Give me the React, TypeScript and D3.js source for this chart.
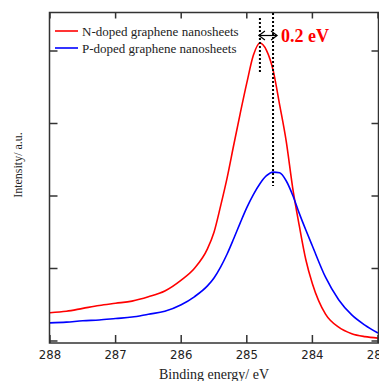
import React from 'react';
import * as d3 from 'd3';

// binding energy grid (eV)
const energy = [
  288.0, 287.75, 287.5, 287.25, 287.0, 286.75, 286.5, 286.25, 286.0, 285.8, 285.6,
  285.5, 285.4, 285.3, 285.2, 285.1, 285.0, 284.9, 284.8, 284.7, 284.6, 284.5,
  284.4, 284.3, 284.2, 284.1, 284.0, 283.8, 283.6, 283.4, 283.2, 283.0,
];
const nDoped = [
  0.39, 0.41, 0.45, 0.49, 0.52, 0.55, 0.61, 0.69, 0.84, 1.0, 1.27,
  1.5, 1.86, 2.25, 2.7, 3.14, 3.56, 3.94, 4.11, 4.01, 3.74, 3.26,
  2.76, 2.11, 1.59, 1.12, 0.79, 0.37, 0.19, 0.1, 0.06, 0.04,
];
const pDoped = [
  0.25, 0.26, 0.28, 0.29, 0.31, 0.33, 0.37, 0.41, 0.5, 0.61, 0.76,
  0.87, 1.02, 1.2, 1.41, 1.63, 1.84, 2.02, 2.17, 2.28, 2.33, 2.32,
  2.21, 2.01, 1.76, 1.53, 1.31, 0.88, 0.57, 0.36, 0.22, 0.11,
];
const xTicks = [288, 287, 286, 285, 284, 283];
const yTicks = [0, 1, 2, 3, 4];
const seriesNames = ['N-doped graphene nanosheets', 'P-doped graphene nanosheets'];
const peakN = 284.8;
const peakP = 284.6;

export default function App() {
  const W = 379;
  const H = 381;
  const left = 49.5, right = 378.5, top = 12.5, bottom = 343;

  const x = d3.scaleLinear().domain([288, 283]).range([50, 378]);
  const y = d3.scaleLinear().domain([0, 4]).range([341, 51]);

  const line = d3
    .line<number>()
    .x((_, i) => x(energy[i]))
    .y((d) => y(d))
    .curve(d3.curveMonotoneX);

  const serif = '"Liberation Serif", "Times New Roman", serif';
  const frame = '#333';

  return (
    <svg width={W} height={H} style={{ position: 'absolute', left: 0, top: 0, background: '#fff' }}>
      <defs>
        <clipPath id="plot">
          <rect x={left} y={top} width={right - left + 1} height={bottom - top} />
        </clipPath>
      </defs>

      {/* curves */}
      <g clipPath="url(#plot)" fill="none" strokeWidth={1.6}>
        <path d={line(nDoped) || ''} stroke="#ff0000" />
        <path d={line(pDoped) || ''} stroke="#0000ff" />
      </g>

      {/* frame */}
      <rect x={left} y={top} width={right - left} height={bottom - top} fill="none" stroke={frame} strokeWidth={1.5} />

      {/* x ticks */}
      {xTicks.map((t) => (
        <g key={t}>
          <line x1={x(t)} x2={x(t)} y1={top} y2={top + 6} stroke={frame} strokeWidth={1.5} />
          <line x1={x(t)} x2={x(t)} y1={bottom} y2={bottom - 8} stroke={frame} strokeWidth={1.5} />
          <text
            x={x(t)}
            y={359}
            textAnchor="middle"
            fontSize={13}
            fill="#222"
            style={{ fontFamily: '"Liberation Sans Narrow", "DejaVu Sans Condensed", sans-serif', fontStretch: 'condensed' }}
          >
            {t}
          </text>
        </g>
      ))}

      {/* y ticks */}
      {yTicks.map((t) => (
        <g key={t}>
          <line x1={left} x2={left + 8} y1={y(t)} y2={y(t)} stroke={frame} strokeWidth={1.5} />
          <line x1={right} x2={right - 7} y1={y(t)} y2={y(t)} stroke={frame} strokeWidth={1.5} />
        </g>
      ))}

      {/* axis titles */}
      <text x={214} y={379} textAnchor="middle" fontSize={14} fill="#222" style={{ fontFamily: serif }}>
        Binding energy/ eV
      </text>
      <text
        transform="translate(22,165) rotate(-90)"
        textAnchor="middle"
        fontSize={12}
        fill="#222"
        style={{ fontFamily: serif }}
      >
        Intensity/ a.u.
      </text>

      {/* legend */}
      {seriesNames.map((name, i) => (
        <g key={name} transform={`translate(0,${31 + i * 17})`}>
          <line x1={55} x2={78} y1={0} y2={0} stroke={i === 0 ? '#ff0000' : '#0000ff'} strokeWidth={1.6} />
          <text x={82} y={4.5} fontSize={13} fill="#222" style={{ fontFamily: serif }}>
            {name}
          </text>
        </g>
      ))}

      {/* peak shift annotation */}
      <line x1={x(peakN)} x2={x(peakN)} y1={18} y2={73} stroke="#000" strokeWidth={2} strokeDasharray="2,2" />
      <line x1={x(peakP)} x2={x(peakP)} y1={13} y2={186} stroke="#000" strokeWidth={2} strokeDasharray="2,2" />
      <g stroke="#000" strokeWidth={1.2} fill="none">
        <line x1={x(peakN) - 1} x2={x(peakP) + 4} y1={35.5} y2={35.5} />
        <polyline points={`${x(peakN) + 5},31 ${x(peakN) - 1},35.5 ${x(peakN) + 5},40`} />
        <polyline points={`${x(peakP) - 2},31 ${x(peakP) + 4},35.5 ${x(peakP) - 2},40`} />
      </g>
      <text x={281} y={42} fontSize={18} fontWeight="bold" fill="#ff0000" style={{ fontFamily: serif }}>
        0.2 eV
      </text>
    </svg>
  );
}
